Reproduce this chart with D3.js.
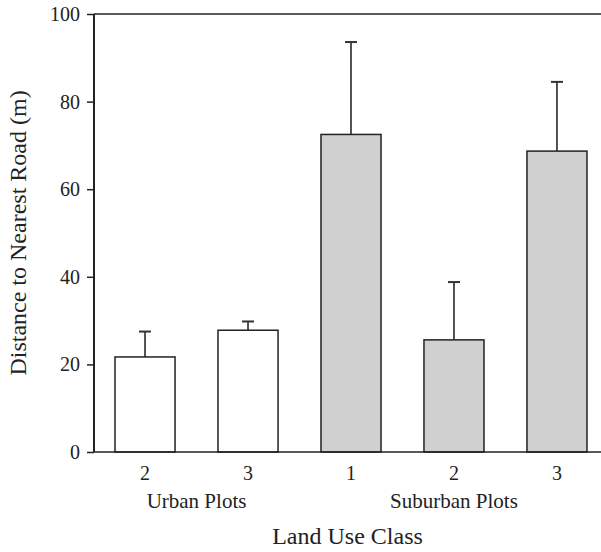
<!DOCTYPE html>
<html>
<head>
<meta charset="utf-8">
<script src="https://cdn.jsdelivr.net/npm/d3@7"></script>
<style>
  body { margin: 0; background: #fff; }
  svg text { font-family: 'Liberation Serif', 'DejaVu Serif', serif !important; fill: #222; }
</style>
</head>
<body>
<div id="chart"></div>
<script>
// bar data, left to right
var classes = ["2", "3", "1", "2", "3"];
var groups = ["Urban Plots", "Urban Plots", "Suburban Plots", "Suburban Plots", "Suburban Plots"];
var means = [21.7, 27.8, 72.5, 25.6, 68.7];
var upper = [27.5, 29.8, 93.6, 38.8, 84.5];
var yTicks = [0, 20, 40, 60, 80, 100];

var width = 601, height = 552;
var plotLeft = 94, plotTop = 14, plotBottom = 452;
var serif = "'Liberation Serif', 'DejaVu Serif', serif";

var svg = d3.select("#chart").append("svg")
    .attr("width", width)
    .attr("height", height)
    .attr("font-family", serif);

var idx = d3.range(classes.length);

var x = d3.scaleBand()
    .domain(idx)
    .range([plotLeft, 608])
    .paddingInner(0.417)
    .paddingOuter(0.204);

var y = d3.scaleLinear()
    .domain([0, 100])
    .range([plotBottom, plotTop]);

// frame line at the top
svg.append("line")
    .attr("x1", plotLeft).attr("x2", width)
    .attr("y1", y(100)).attr("y2", y(100))
    .attr("stroke", "#5a5a5a").attr("stroke-width", 2);

// error bars first so bar outline sits on top
var err = svg.selectAll(".err").data(idx).enter().append("g").attr("class", "err");
err.append("line")
    .attr("x1", function(i) { return x(i) + x.bandwidth() / 2; })
    .attr("x2", function(i) { return x(i) + x.bandwidth() / 2; })
    .attr("y1", function(i) { return y(means[i]); })
    .attr("y2", function(i) { return y(upper[i]); })
    .attr("stroke", "#1a1a1a").attr("stroke-width", 1.5);
err.append("line")
    .attr("x1", function(i) { return x(i) + x.bandwidth() / 2 - 6; })
    .attr("x2", function(i) { return x(i) + x.bandwidth() / 2 + 6; })
    .attr("y1", function(i) { return y(upper[i]); })
    .attr("y2", function(i) { return y(upper[i]); })
    .attr("stroke", "#333").attr("stroke-width", 2);

svg.selectAll(".bar")
    .data(idx)
    .enter().append("rect")
    .attr("class", "bar")
    .attr("x", function(i) { return x(i); })
    .attr("y", function(i) { return y(means[i]); })
    .attr("width", x.bandwidth())
    .attr("height", function(i) { return y(0) - y(means[i]); })
    .attr("fill", function(i) { return groups[i] == "Urban Plots" ? "#fff" : "#d0d0d0"; })
    .attr("stroke", "#222")
    .attr("stroke-width", 1.5);

// y axis
var yAxis = svg.append("g")
    .attr("transform", "translate(" + plotLeft + ",0)")
    .call(d3.axisLeft(y).tickValues(yTicks).tickSize(7).tickPadding(7).tickFormat(d3.format("d")));
yAxis.attr("font-family", serif).attr("font-size", 20);
yAxis.select(".domain").remove();
yAxis.selectAll(".tick line").attr("stroke", "#222").attr("stroke-width", 1.5);
yAxis.selectAll("text").attr("fill", "#222");

svg.append("line")
    .attr("x1", plotLeft).attr("x2", plotLeft)
    .attr("y1", y(100)).attr("y2", y(0))
    .attr("stroke", "#222").attr("stroke-width", 2);
svg.append("line")
    .attr("x1", plotLeft).attr("x2", width)
    .attr("y1", y(0)).attr("y2", y(0))
    .attr("stroke", "#222").attr("stroke-width", 1.5);

// x axis class labels
var xAxis = svg.append("g")
    .attr("transform", "translate(0," + plotBottom + ")")
    .call(d3.axisBottom(x).tickSize(0).tickFormat(function(i) { return classes[i]; }));
xAxis.attr("font-family", serif).attr("font-size", 20);
xAxis.select(".domain").remove();
xAxis.selectAll("text")
    .attr("y", 28).attr("dy", 0)
    .attr("fill", "#222");

// group labels
var groupNames = ["Urban Plots", "Suburban Plots"];
svg.selectAll(".group")
    .data(groupNames)
    .enter().append("text")
    .attr("class", "group")
    .attr("x", function(g) {
        var members = idx.filter(function(i) { return groups[i] == g; });
        return d3.mean(members, function(i) { return x(i) + x.bandwidth() / 2; });
    })
    .attr("y", 508)
    .attr("text-anchor", "middle")
    .attr("font-size", 21)
    .text(function(g) { return g; });

svg.append("text")
    .attr("x", (plotLeft + width) / 2)
    .attr("y", 544)
    .attr("text-anchor", "middle")
    .attr("font-size", 24)
    .text("Land Use Class");

svg.append("text")
    .attr("transform", "translate(26," + (plotTop + plotBottom) / 2 + ") rotate(-90)")
    .attr("text-anchor", "middle")
    .attr("font-size", 24)
    .text("Distance to Nearest Road (m)");
</script>
</body>
</html>
